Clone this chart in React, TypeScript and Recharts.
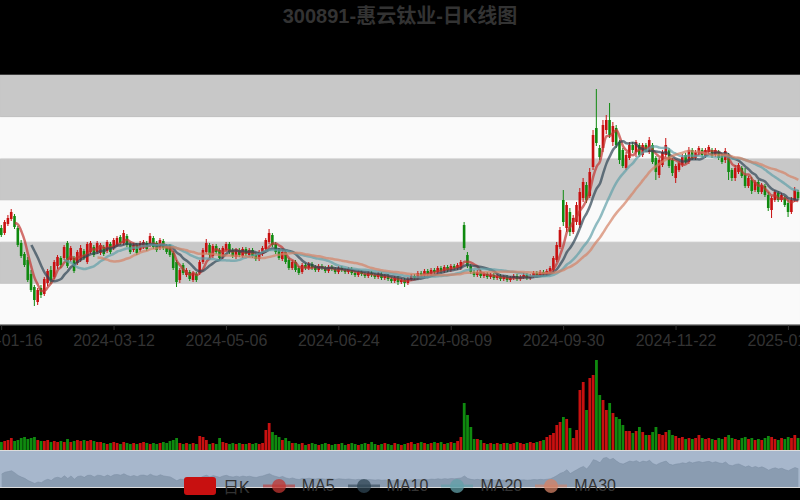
import React from "react";
import {
  Area,
  AreaChart,
  Bar,
  BarChart,
  Cell,
  ComposedChart,
  Line,
  ReferenceArea,
  XAxis,
  YAxis,
} from "recharts";

const TITLE = "300891-惠云钛业-日K线图";

const tickIndex = [0, 34, 68, 102, 136, 170, 204, 238];
const tickLabels = [
  "2024-01-16", "2024-03-12", "2024-05-06", "2024-06-24",
  "2024-08-09", "2024-09-30", "2024-11-22", "2025-01-10",
];

const open = [
  14.7, 14.2, 15.1, 15.6, 15.9, 14.7, 13.2, 12.1, 11.5, 10.1,
  8.8, 7.3, 8.7, 8.1, 9.2, 10.5, 9.8, 10.9, 11.7, 11.7,
  13.2, 11.5, 11.7, 11.2, 11.5, 12.4, 11.3, 12.3, 12.8, 12.3,
  12.2, 12.8, 12.4, 13.1, 12.7, 13.0, 13.8, 13.2, 13.9, 13.1,
  12.5, 13.0, 12.5, 12.8, 13.2, 13.0, 13.7, 13.2, 12.7, 13.4,
  12.9, 12.9, 12.2, 11.3, 9.5, 11.0, 10.0, 10.3, 9.5, 10.1,
  10.2, 11.3, 12.3, 13.0, 11.9, 12.9, 12.5, 11.8, 12.5, 13.1,
  12.5, 11.8, 12.5, 11.9, 12.6, 12.0, 12.5, 12.0, 11.6, 12.1,
  12.6, 13.3, 14.0, 13.1, 12.5, 11.6, 12.3, 11.5, 10.7, 11.3,
  10.7, 10.3, 11.0, 10.7, 11.1, 10.8, 10.5, 10.9, 10.7, 10.4,
  10.8, 10.6, 10.3, 10.7, 10.5, 10.3, 10.6, 10.2, 10.0, 10.3,
  10.1, 9.9, 10.2, 10.0, 9.8, 10.1, 9.7, 9.9, 9.6, 9.4,
  9.7, 9.3, 9.5, 9.2, 9.6, 9.9, 9.7, 10.2, 10.0, 10.4,
  10.1, 10.5, 10.3, 10.7, 10.4, 10.8, 10.5, 10.9, 10.7, 10.7,
  15.0, 12.0, 10.9, 10.3, 10.0, 10.3, 9.9, 10.1, 9.8, 10.0,
  9.7, 9.9, 9.6, 9.8, 9.5, 9.7, 9.9, 9.6, 9.8, 10.0,
  9.7, 9.9, 10.2, 10.0, 10.3, 10.1, 10.4, 10.5, 11.5, 12.8,
  17.5, 14.7, 16.3, 14.3, 15.3, 15.0, 17.7, 19.0, 17.9, 20.8,
  24.7, 22.7, 22.7, 24.5, 25.5, 23.3, 24.7, 23.3, 22.5, 20.7,
  21.7, 23.0, 22.3, 23.0, 22.0, 23.0, 22.3, 23.0, 21.7, 20.0,
  21.0, 22.0, 22.5, 21.5, 19.7, 20.5, 21.0, 22.0, 21.3, 22.5,
  21.7, 22.2, 22.5, 21.9, 22.3, 22.5, 22.0, 22.3, 22.0, 21.5,
  22.0, 20.5, 19.7, 20.3, 20.7, 20.0, 18.9, 19.5, 18.5, 19.3,
  18.3, 18.9, 18.0, 16.5, 17.5, 18.2, 17.5, 17.7, 17.2, 16.3,
  17.5, 18.3,
];

const close = [
  14.0, 15.3, 15.7, 16.3, 14.8, 13.0, 11.9, 11.0, 9.5, 8.5,
  7.5, 8.5, 8.0, 9.6, 10.4, 9.5, 11.3, 11.8, 11.0, 12.8,
  10.9, 12.7, 10.4, 12.3, 12.7, 11.7, 13.1, 13.2, 12.0, 13.2,
  13.0, 12.1, 13.3, 12.3, 13.5, 13.7, 13.2, 14.2, 13.0, 12.3,
  13.0, 12.2, 13.2, 13.3, 12.6, 13.9, 12.8, 12.5, 13.5, 12.7,
  12.3, 12.0, 10.7, 9.3, 10.5, 10.2, 10.5, 9.6, 10.2, 9.5,
  11.3, 12.5, 13.2, 12.0, 12.9, 12.3, 11.7, 12.7, 13.1, 12.3,
  11.9, 12.5, 12.0, 12.6, 12.1, 12.5, 11.9, 11.6, 12.3, 12.7,
  13.5, 14.2, 13.0, 12.3, 11.7, 12.3, 11.3, 10.7, 11.3, 10.5,
  10.2, 11.0, 10.7, 11.1, 10.7, 10.5, 10.9, 10.7, 10.4, 10.8,
  10.6, 10.3, 10.7, 10.5, 10.3, 10.6, 10.2, 10.0, 10.3, 10.1,
  9.9, 10.2, 10.0, 9.8, 10.1, 9.7, 9.9, 9.6, 9.4, 9.7,
  9.3, 9.5, 9.2, 9.6, 9.9, 9.7, 10.2, 10.0, 10.4, 10.1,
  10.5, 10.3, 10.7, 10.4, 10.8, 10.5, 10.9, 10.7, 11.0, 11.3,
  12.7, 10.9, 10.3, 10.0, 10.3, 9.9, 10.1, 9.8, 10.0, 9.7,
  9.9, 9.6, 9.8, 9.5, 9.7, 9.9, 9.6, 9.8, 10.0, 9.7,
  9.9, 10.2, 10.0, 10.3, 10.1, 10.4, 10.7, 11.7, 13.0, 14.5,
  15.3, 17.0, 14.3, 15.7, 17.0, 18.3, 19.3, 17.5, 20.3, 24.0,
  23.2, 21.8, 25.0, 25.5, 24.0, 24.9, 23.0, 21.5, 20.9, 22.0,
  23.0, 22.5, 23.3, 22.0, 23.0, 22.5, 23.5, 21.3, 20.3, 21.5,
  22.3, 23.0, 20.9, 20.2, 20.9, 21.2, 21.8, 21.3, 22.5, 21.7,
  22.3, 22.7, 22.0, 22.5, 22.8, 21.9, 22.5, 21.7, 21.3, 22.4,
  20.3, 19.7, 20.7, 21.0, 19.9, 18.9, 19.7, 18.4, 19.3, 18.3,
  19.0, 18.0, 16.7, 17.7, 18.3, 17.5, 18.0, 17.0, 16.3, 17.5,
  18.5, 17.7,
];

const low = [
  13.8, 14.0, 14.9, 15.4, 14.6, 12.8, 11.7, 10.8, 9.3, 8.3,
  6.9, 7.0, 7.7, 7.9, 8.9, 9.1, 9.6, 10.6, 10.7, 11.5,
  10.7, 11.3, 10.2, 11.0, 11.3, 11.5, 11.1, 12.1, 11.8, 12.1,
  12.0, 11.9, 12.2, 12.1, 12.5, 12.8, 13.0, 13.0, 12.8, 12.1,
  12.3, 12.0, 12.3, 12.6, 12.4, 12.8, 12.6, 12.3, 12.5, 12.5,
  12.1, 11.8, 10.5, 8.8, 9.2, 10.0, 9.8, 9.4, 9.3, 9.3,
  10.0, 11.1, 12.1, 11.7, 11.7, 12.1, 11.5, 11.6, 12.3, 12.1,
  11.7, 11.6, 11.8, 11.7, 11.9, 11.8, 11.7, 11.4, 11.4, 11.9,
  12.4, 13.1, 12.8, 12.1, 11.5, 11.4, 11.1, 10.5, 10.5, 10.3,
  10.0, 10.1, 10.5, 10.5, 10.5, 10.3, 10.3, 10.5, 10.2, 10.2,
  10.4, 10.1, 10.1, 10.3, 10.1, 10.1, 10.0, 9.8, 9.8, 9.9,
  9.7, 9.7, 9.8, 9.6, 9.6, 9.5, 9.5, 9.4, 9.2, 9.2,
  9.0, 9.1, 8.8, 9.0, 9.4, 9.5, 9.5, 9.8, 9.8, 9.9,
  9.9, 10.1, 10.1, 10.2, 10.2, 10.3, 10.3, 10.5, 10.5, 10.5,
  12.5, 10.7, 10.1, 9.8, 9.8, 9.7, 9.7, 9.6, 9.6, 9.5,
  9.5, 9.4, 9.4, 9.3, 9.3, 9.5, 9.4, 9.4, 9.6, 9.5,
  9.5, 9.7, 9.8, 9.8, 9.9, 9.9, 10.2, 10.3, 11.3, 12.6,
  14.9, 14.3, 13.9, 14.1, 15.0, 14.7, 17.3, 17.2, 17.7, 20.5,
  22.9, 21.5, 22.3, 24.1, 23.7, 22.9, 22.7, 21.1, 20.7, 20.5,
  21.5, 22.2, 21.8, 21.8, 21.8, 22.3, 22.1, 21.1, 19.5, 19.7,
  20.8, 21.8, 20.7, 19.9, 19.2, 20.3, 20.8, 21.1, 21.1, 21.5,
  21.5, 22.0, 21.8, 21.7, 22.1, 21.7, 21.8, 21.5, 21.1, 21.2,
  19.5, 19.4, 19.4, 20.1, 19.7, 18.7, 18.7, 18.1, 18.3, 18.1,
  18.1, 17.8, 16.4, 15.7, 17.3, 17.3, 17.3, 16.8, 15.8, 16.1,
  17.3, 17.5,
];

const high = [
  15.0, 15.5, 16.0, 16.6, 16.1, 14.9, 13.5, 12.3, 11.8, 10.5,
  9.0, 8.7, 9.0, 9.8, 10.6, 10.9, 11.5, 12.0, 11.9, 13.0,
  13.4, 12.9, 11.9, 12.5, 13.0, 12.6, 13.3, 13.4, 13.0, 13.4,
  13.2, 13.0, 13.5, 13.3, 13.7, 13.9, 14.0, 14.5, 14.1, 13.3,
  13.2, 13.2, 13.4, 13.5, 13.4, 14.2, 13.9, 13.4, 13.7, 13.6,
  13.1, 13.1, 12.4, 11.5, 10.7, 11.2, 10.7, 10.5, 10.4, 10.3,
  11.5, 12.7, 13.6, 13.2, 13.1, 13.1, 12.7, 12.9, 13.3, 13.3,
  12.7, 12.7, 12.7, 12.8, 12.8, 12.7, 12.7, 12.2, 12.5, 12.9,
  13.7, 14.6, 14.2, 13.3, 12.7, 12.5, 12.5, 11.7, 11.5, 11.5,
  10.9, 11.2, 11.2, 11.3, 11.3, 11.0, 11.1, 11.1, 10.9, 11.0,
  11.0, 10.8, 10.9, 10.9, 10.7, 10.8, 10.8, 10.4, 10.5, 10.5,
  10.3, 10.4, 10.4, 10.2, 10.3, 10.3, 10.1, 10.1, 9.8, 9.9,
  9.9, 9.7, 9.7, 9.8, 10.1, 10.1, 10.4, 10.4, 10.6, 10.6,
  10.7, 10.7, 10.9, 10.9, 11.0, 11.0, 11.1, 11.1, 11.2, 11.5,
  15.3, 12.3, 11.1, 10.5, 10.5, 10.5, 10.3, 10.3, 10.2, 10.2,
  10.1, 10.1, 10.0, 10.0, 9.9, 10.1, 10.1, 10.0, 10.2, 10.2,
  10.1, 10.4, 10.4, 10.5, 10.5, 10.6, 10.9, 11.9, 13.3, 14.8,
  18.5, 17.3, 16.7, 16.0, 17.3, 18.7, 19.7, 19.3, 20.7, 24.5,
  28.6, 23.0, 25.5, 26.0, 27.2, 25.3, 25.0, 23.5, 22.7, 22.3,
  23.3, 23.3, 23.5, 23.2, 23.2, 23.2, 23.8, 23.2, 21.9, 21.7,
  22.5, 23.7, 22.7, 21.7, 21.1, 21.4, 22.1, 22.2, 22.8, 22.7,
  22.5, 22.9, 22.7, 22.7, 23.0, 22.7, 22.7, 22.5, 22.2, 22.7,
  22.2, 20.7, 21.0, 21.2, 20.9, 20.7, 19.9, 19.8, 19.5, 19.5,
  19.2, 19.1, 18.3, 17.9, 18.5, 18.4, 18.2, 17.9, 17.5, 17.8,
  18.8, 18.5,
];

// 成交量（万股）
const volume = [
  80, 90, 100, 120, 90, 100, 120, 130, 110, 120,
  130, 100, 90, 90, 100, 80, 90, 80, 90, 80,
  110, 80, 90, 100, 90, 100, 90, 100, 90, 80,
  80, 70, 60, 70, 80, 70, 60, 80, 70, 60,
  70, 60, 70, 80, 70, 60, 70, 60, 70, 80,
  70, 90, 100, 120, 70, 60, 70, 60, 70, 60,
  140, 130, 100, 60, 70, 60, 120, 80, 70, 60,
  70, 60, 70, 60, 60, 70, 60, 70, 60, 70,
  200, 270, 180, 150, 130, 100, 120, 90, 70, 70,
  60, 70, 50, 60, 70, 60, 50, 60, 70, 60,
  50, 60, 60, 70, 50, 60, 70, 60, 50, 60,
  70, 60, 80, 60, 50, 60, 70, 60, 50, 70,
  60, 50, 60, 70, 80, 60, 70, 80, 70, 60,
  70, 80, 70, 80, 60, 70, 80, 70, 90, 130,
  470, 350, 230, 110, 110, 100, 70, 60, 70, 60,
  70, 60, 70, 70, 60, 70, 80, 70, 60, 70,
  80, 70, 80, 90, 100, 130, 150, 170, 250, 280,
  330, 310, 220, 120, 200, 600, 680, 400, 720, 750,
  900, 550, 500, 400, 470, 370, 330, 310, 250, 190,
  190, 170, 190, 230, 180, 150, 150, 180, 230, 160,
  150, 180, 200, 150, 140, 120, 130, 110, 120, 110,
  120, 150, 120, 110, 120, 110, 100, 120, 110, 130,
  150, 120, 110, 100, 120, 130, 110, 120, 100, 110,
  100, 120, 140, 130, 110, 100, 120, 110, 130, 120,
  150, 120,
];

const UP = "#c81010";
const DOWN = "#0f8a0f";
const MA_COLORS = ["#c23531", "#2f4554", "#61a0a8", "#d48265"];
const PRICE_MIN = 5;
const PRICE_MAX = 30;
const VOL_MAX = 900;
const FONT = "'Liberation Sans', 'Noto Sans CJK SC', sans-serif";

function movingAvg(n: number, i: number) {
  if (i < n - 1) return null;
  let s = 0;
  for (let k = i - n + 1; k <= i; k++) s += close[k];
  return s / n;
}

const rows = open.map((o, i) => ({
  i,
  open: o,
  close: close[i],
  low: low[i],
  high: high[i],
  range: [low[i], high[i]],
  vol: volume[i],
  ma5: movingAvg(5, i),
  ma10: movingAvg(10, i),
  ma20: movingAvg(20, i),
  ma30: movingAvg(30, i),
}));

const xDomain: [number, number] = [-0.5, rows.length - 0.5];
const bandEdges = Array.from({ length: 7 }, (_, k) => PRICE_MIN + ((PRICE_MAX - PRICE_MIN) * k) / 6);

function Candle(props: any) {
  const { x, y, width, height, payload } = props;
  if (x == null || y == null || !payload) return null;
  const { open: o, close: c, low: l, high: h } = payload;
  const span = h - l || 1;
  const cx = x + width / 2;
  const yOf = (v: number) => y + ((h - v) / span) * height;
  const top = yOf(Math.max(o, c));
  const bottom = yOf(Math.min(o, c));
  const color = c >= o ? UP : DOWN;
  const bw = 2.6;
  return (
    <g>
      <line x1={cx} x2={cx} y1={y} y2={y + height} stroke={color} strokeWidth={1} />
      <rect x={cx - bw / 2} y={top} width={bw} height={Math.max(bottom - top, 1)} fill={color} />
    </g>
  );
}

const maKeys = ["ma5", "ma10", "ma20", "ma30"];
const maNames = ["MA5", "MA10", "MA20", "MA30"];

function LegendBar() {
  return (
    <div
      style={{
        position: "absolute",
        top: 477,
        left: 0,
        width: 800,
        height: 18,
        display: "flex",
        justifyContent: "center",
        alignItems: "center",
        gap: 13,
        fontFamily: FONT,
        fontSize: 16,
        color: "#333",
      }}
    >
      <div style={{ display: "flex", alignItems: "center", gap: 7 }}>
        <div style={{ width: 32, height: 18, background: UP, borderRadius: 3 }} />
        <span>日K</span>
      </div>
      {maNames.map((n, k) => (
        <div key={n} style={{ display: "flex", alignItems: "center", gap: 7 }}>
          <svg width={32} height={18}>
            <line x1={0} x2={32} y1={9} y2={9} stroke={MA_COLORS[k]} strokeWidth={3} strokeOpacity={0.6} />
            <circle cx={16} cy={9} r={7} fill={MA_COLORS[k]} fillOpacity={0.75} />
          </svg>
          <span>{n}</span>
        </div>
      ))}
    </div>
  );
}

export default function App() {
  return (
    <div style={{ position: "relative", width: 800, height: 500, background: "#000", overflow: "hidden" }}>
      <style>{"body{margin:0;background:#000}"}</style>
      <div
        style={{
          position: "absolute",
          top: 0,
          left: 0,
          width: 800,
          textAlign: "center",
          fontFamily: FONT,
          fontWeight: "bold",
          fontSize: 20,
          color: "#333",
        }}
      >
        {TITLE}
      </div>

      <div style={{ position: "absolute", top: 0, left: 0 }}>
        <ComposedChart width={800} height={360} data={rows} margin={{ top: 75, right: 0, bottom: 0, left: 0 }}>
          <XAxis
            dataKey="i"
            type="number"
            domain={xDomain}
            allowDataOverflow
            ticks={tickIndex}
            interval={0}
            tickFormatter={(v: number) => tickLabels[tickIndex.indexOf(v)]}
            height={35}
            axisLine={{ stroke: "#333" }}
            tickLine={{ stroke: "#333" }}
            tickSize={5}
            tick={{ fill: "#333", fontSize: 16, fontFamily: FONT, dy: 3 }}
          />
          <YAxis hide type="number" domain={[PRICE_MIN, PRICE_MAX]} allowDataOverflow />
          {bandEdges.slice(0, 6).map((e, k) => (
            <ReferenceArea
              key={k}
              y1={e}
              y2={bandEdges[k + 1]}
              fill={k % 2 === 0 ? "#fafafa" : "#c8c8c8"}
              fillOpacity={1}
              stroke={k % 2 === 0 ? "#fafafa" : "#c8c8c8"}
              strokeWidth={0.6}
              strokeOpacity={1}
            />
          ))}
          <Bar dataKey="range" barSize={2.6} shape={(p: any) => <Candle {...p} />} isAnimationActive={false} />
          {maKeys.map((k, n) => (
            <Line
              key={k}
              dataKey={k}
              type="monotone"
              stroke={MA_COLORS[n]}
              strokeWidth={2.5}
              strokeOpacity={0.7}
              dot={false}
              activeDot={false}
              isAnimationActive={false}
            />
          ))}
        </ComposedChart>
      </div>

      <div style={{ position: "absolute", top: 360, left: 0 }}>
        <BarChart width={800} height={90} data={rows} margin={{ top: 0, right: 0, bottom: 0, left: 0 }}>
          <XAxis hide dataKey="i" type="number" domain={xDomain} allowDataOverflow />
          <YAxis hide type="number" domain={[0, VOL_MAX]} allowDataOverflow />
          <Bar dataKey="vol" barSize={2.8} isAnimationActive={false}>
            {rows.map((r) => (
              <Cell key={r.i} fill={r.close >= r.open ? UP : DOWN} />
            ))}
          </Bar>
        </BarChart>
      </div>

      <div
        style={{
          position: "absolute",
          top: 450,
          left: 0,
          width: 800,
          height: 38,
          background: "#a7b7cc",
          borderTop: "1px solid #ddd",
          borderBottom: "1px solid #ddd",
          boxSizing: "border-box",
        }}
      >
        <AreaChart width={800} height={36} data={rows} margin={{ top: 0, right: 0, bottom: 0, left: 0 }}>
          <XAxis hide dataKey="i" type="number" domain={xDomain} allowDataOverflow />
          <YAxis hide type="number" domain={[PRICE_MIN, PRICE_MAX]} allowDataOverflow />
          <Area
            dataKey="close"
            type="linear"
            stroke="#7a8ca2"
            strokeWidth={0.5}
            fill="#8a9cb1"
            fillOpacity={1}
            isAnimationActive={false}
          />
        </AreaChart>
      </div>

      <LegendBar />
    </div>
  );
}
